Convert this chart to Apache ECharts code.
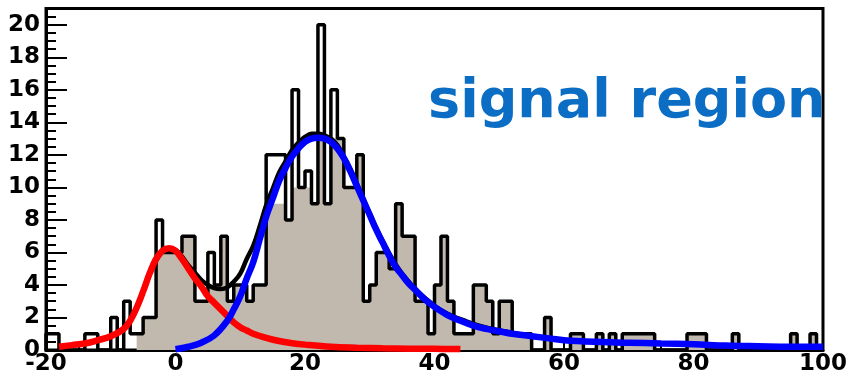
<!DOCTYPE html>
<html><head><meta charset="utf-8">
<script src="https://cdn.jsdelivr.net/npm/echarts@6/dist/echarts.min.js"></script>
<style>html,body{margin:0;padding:0;background:#fff}#c{width:850px;height:379px}</style>
</head><body><div id="c"></div>
<script>
// histogram: 120 bins of width 1 from -20 to 100
const binStart = -20;
const binWidth = 1;
// all data (black outline)
const dataCounts = [
  1,1,0,0,0,0,1,1,0,0,   // -20 .. -11
  2,0,3,1,1,2,2,8,6,6,   // -10 .. -1
  6,7,7,3,3,6,4,7,3,4,   // 0 .. 9
  4,3,4,4,12,12,12,8,16,10, // 10 .. 19
  11,9,20,9,16,13,10,10,12,3, // 20 .. 29
  4,6,6,5,9,7,7,3,3,1,   // 30 .. 39
  4,7,3,1,1,1,4,4,3,1,   // 40 .. 49
  3,3,1,1,1,0,0,2,0,0,   // 50 .. 59
  0,1,1,0,0,1,0,1,0,1,   // 60 .. 69
  1,1,1,1,0,0,0,0,0,1,   // 70 .. 79
  1,1,0,0,0,0,1,0,0,0,   // 80 .. 89
  0,0,0,0,0,1,0,0,1,0    // 90 .. 99
];
// filled (beige) histogram
const filledCounts = [
  0,0,0,0,0,0,0,0,0,0,
  0,0,0,0,1,2,2,6,6,6,
  6,7,7,3,3,4,4,7,3,4,
  4,3,4,4,9,9,9,8,10,10,
  10,9,13,9,13,13,10,10,12,3,
  4,6,6,5,9,7,7,3,3,1,
  4,7,3,1,1,1,4,4,3,1,
  3,3,1,1,1,0,0,2,0,0,
  0,1,1,0,0,1,0,1,0,1,
  1,1,1,1,0,0,0,0,0,1,
  1,1,0,0,0,0,1,0,0,0,
  0,0,0,0,0,1,0,0,1,0
];
// red fit component
const redX = [-18,-16,-14,-12,-10,-8,-7,-6,-5,-4,-3,-2,-1,0,1,2,3,4,5,6,7,8,9,10,11,12,14,16,18,20,24,28,32,36,40,44];
const redY = [0.2,0.3,0.4,0.6,0.85,1.3,1.8,2.6,3.6,4.7,5.6,6.1,6.25,6.1,5.6,5.0,4.4,3.9,3.3,2.9,2.5,2.1,1.7,1.4,1.2,1.0,0.75,0.55,0.42,0.33,0.2,0.14,0.1,0.08,0.07,0.06];
// blue fit component
const blueX = [0,2,4,6,8,9,10,11,12,13,14,15,16,17,18,19,20,21,22,23,24,25,26,27,28,29,30,31,32,33,34,35,36,37,38,39,40,42,44,46,48,50,52,55,58,60,65,70,75,80,85,90,95,100];
const blueY = [0.05,0.2,0.45,0.9,1.8,2.5,3.3,4.4,5.4,6.8,8.2,9.3,10.4,11.2,11.9,12.4,12.8,13.0,13.05,13.0,12.8,12.4,11.8,11.0,10.1,9.2,8.3,7.4,6.6,5.8,5.1,4.6,4.1,3.7,3.3,2.95,2.65,2.15,1.8,1.5,1.3,1.15,1.0,0.85,0.7,0.6,0.5,0.45,0.4,0.35,0.27,0.23,0.2,0.2];
// total fit (black)
const totalX = [-18,-14,-10,-8,-6,-4,-2,-1,0,1,2,3,4,5,6,7,8,9,10,11,12,13,14,15,16,17,18,19,20,21,22,23,24,25,26,27,28,30,32,35,40,45,50,60,70,80,90,100];
const totalY = [0.2,0.4,0.85,1.3,2.6,4.7,6.1,6.25,6.15,5.75,5.2,4.75,4.3,4.0,3.8,3.75,3.85,4.2,4.7,5.6,6.4,7.6,8.9,9.9,10.9,11.6,12.3,12.75,13.1,13.3,13.3,13.2,13.0,12.6,11.9,11.15,10.25,8.4,6.7,4.7,2.72,1.75,1.2,0.6,0.45,0.35,0.23,0.2];

function stepData(counts) {
  const pts = [[binStart, 0]];
  counts.forEach((c, i) => pts.push([binStart + i * binWidth, c]));
  const end = binStart + counts.length * binWidth;
  pts.push([end, counts[counts.length - 1]]);
  pts.push([end, 0]);
  return pts;
}
const zip = (xs, ys) => xs.map((x, i) => [x, ys[i]]);

const labelFont = { color: '#000', fontWeight: 'bold', fontFamily: 'DejaVu Sans', fontSize: 23 };
const chart = echarts.init(document.getElementById('c'), null, { renderer: 'canvas' });
chart.setOption({
  animation: false,
  backgroundColor: '#fff',
  grid: { left: 46, right: 20, top: 8.5, bottom: 29, show: true, borderColor: '#000', borderWidth: 3, backgroundColor: 'transparent' },
  xAxis: {
    type: 'value', min: -20, max: 100, interval: 20,
    axisLine: { show: true, onZero: false, lineStyle: { color: '#000', width: 3 } },
    axisTick: { show: true, inside: true, length: 8, lineStyle: { color: '#000', width: 2 } },
    minorTick: { show: true, splitNumber: 4, length: 4, lineStyle: { color: '#000', width: 2 } },
    splitLine: { show: false },
    axisLabel: Object.assign({ margin: 3 }, labelFont)
  },
  yAxis: {
    type: 'value', min: 0, max: 21, interval: 2,
    axisLine: { show: true, onZero: false, lineStyle: { color: '#000', width: 3 } },
    axisTick: { show: true, inside: true, length: 21, lineStyle: { color: '#000', width: 2 } },
    minorTick: { show: true, splitNumber: 4, length: 10, lineStyle: { color: '#000', width: 2 } },
    splitLine: { show: false },
    axisLabel: Object.assign({ margin: 6, showMaxLabel: false,
      formatter: v => (v % 2 === 0 ? String(v) : '') }, labelFont)
  },
  series: [
    { type: 'line', step: 'end', data: stepData(filledCounts), symbol: 'none', z: 1,
      lineStyle: { width: 0 }, areaStyle: { color: '#c1b8ae', opacity: 1 } },
    { type: 'line', step: 'end', data: stepData(dataCounts), symbol: 'none', z: 2,
      lineStyle: { color: '#000', width: 3.5 } },
    { type: 'line', smooth: 0.4, data: zip(totalX, totalY), symbol: 'none', z: 3,
      lineStyle: { color: '#000', width: 4.5 } },
    { type: 'line', smooth: 0.4, data: zip(redX, redY), symbol: 'none', z: 4,
      lineStyle: { color: '#ff0000', width: 6.5 } },
    { type: 'line', smooth: 0.4, data: zip(blueX, blueY), symbol: 'none', z: 5,
      lineStyle: { color: '#0000ff', width: 6.5 } }
  ],
  graphic: [
    { type: 'text', left: 428, top: 76, z: 100,
      style: { text: 'signal region', fill: '#0b6ec4', font: 'bold 54px "DejaVu Sans"' } }
  ]
});
</script>
</body></html>
